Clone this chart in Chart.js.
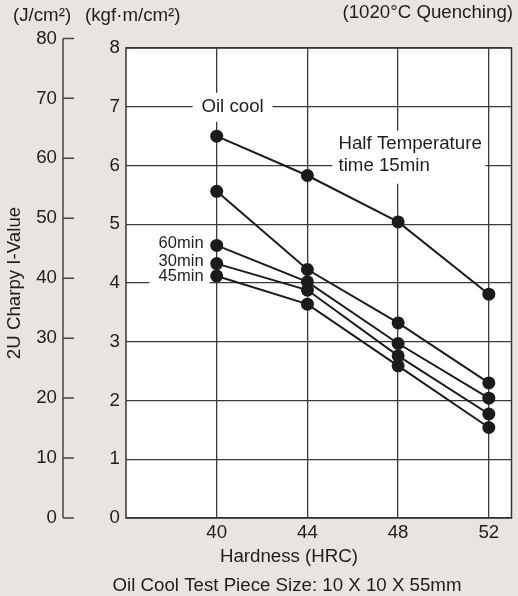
<!DOCTYPE html>
<html>
<head>
<meta charset="utf-8">
<script src="https://cdn.jsdelivr.net/npm/chart.js@4.4.1/dist/chart.umd.min.js"></script>
<style>
  html, body { margin: 0; padding: 0; background: #e8e4e1; }
  #wrap { width: 518px; height: 596px; }
</style>
</head>
<body>
<div id="wrap"><canvas id="charpy-chart"></canvas></div>
<script>
// hardness (HRC) on x, impact value (kgf·m/cm²) on y
const hardness = [40, 44, 48, 52];
const oilCool = [6.5, 5.83, 5.04, 3.81];
const temper15 = [5.56, 4.23, 3.32, 2.30];
const temper60 = [4.64, 4.02, 2.97, 2.04];
const temper30 = [4.33, 3.88, 2.76, 1.77];
const temper45 = [4.12, 3.64, 2.59, 1.54];

const xTicks = [40, 44, 48, 52];
const kgfTicks = [0, 1, 2, 3, 4, 5, 6, 7, 8];
const jTicks = [0, 10, 20, 30, 40, 50, 60, 70, 80];
const J_PER_KGF = 9.8;

const FONT = '"Liberation Sans", Arial, Helvetica, sans-serif';
const INK = '#1e1e1e';
const FS = 18.7;

function pts(ys) {
    return hardness.map((h, i) => ({ x: h, y: ys[i] }));
}

function series(ys) {
    return {
        data: pts(ys),
        borderColor: '#1b1b1b',
        borderWidth: 2,
        pointRadius: 6.5,
        pointBackgroundColor: '#1b1b1b',
        pointBorderWidth: 0,
        pointHoverRadius: 6.5,
        clip: false
    };
}

function txt(ctx, s, x, y, align, size) {
    ctx.font = (size || FS) + 'px ' + FONT;
    ctx.textAlign = align;
    ctx.textBaseline = 'middle';
    ctx.fillStyle = INK;
    ctx.fillText(s, x, y);
}

const paper = {
    id: 'paper',
    beforeDraw(chart) {
        const { ctx, chartArea: a } = chart;
        ctx.save();
        ctx.fillStyle = '#e8e4e1';
        ctx.fillRect(0, 0, chart.width, chart.height);
        ctx.fillStyle = '#fff';
        ctx.fillRect(a.left, a.top, a.right - a.left, a.bottom - a.top);
        ctx.restore();
    },
    beforeDatasetsDraw(chart) {
        const { ctx, chartArea: a } = chart;
        const xs = chart.scales.x, ys = chart.scales.y;
        ctx.save();
        ctx.strokeStyle = '#333';
        ctx.lineWidth = 1.5;
        ctx.strokeRect(a.left, a.top, a.right - a.left, a.bottom - a.top);

        // label boxes cut the grid
        ctx.fillStyle = '#fff';
        let px = xs.getPixelForValue(40.7), py = ys.getPixelForValue(7.0);
        ctx.fillRect(px - 40, py - 14, 80, 29);
        txt(ctx, 'Oil cool', px, py, 'center');

        px = xs.getPixelForValue(45.37);
        py = ys.getPixelForValue(6.37);
        ctx.fillStyle = '#fff';
        ctx.fillRect(px - 6, py - 13, 153, 53);
        txt(ctx, 'Half Temperature', px, py, 'left');
        txt(ctx, 'time 15min', px, ys.getPixelForValue(5.99), 'left');

        px = xs.getPixelForValue(39.42);
        ctx.fillStyle = '#fff';
        ctx.fillRect(px - 54, ys.getPixelForValue(temper60[0]) - 13, 60, 58);
        txt(ctx, '60min', px, ys.getPixelForValue(temper60[0]) - 2, 'right', 16.5);
        txt(ctx, '30min', px, ys.getPixelForValue(temper30[0]) - 2, 'right', 16.5);
        txt(ctx, '45min', px, ys.getPixelForValue(temper45[0]) + 1, 'right', 16.5);
        ctx.restore();
    },
    afterDraw(chart) {
        const { ctx } = chart;
        const ys = chart.scales.y;
        ctx.save();
        // J/cm² axis
        const ax = 63;
        ctx.strokeStyle = '#444';
        ctx.lineWidth = 1.5;
        ctx.beginPath();
        ctx.moveTo(ax, ys.getPixelForValue(0));
        ctx.lineTo(ax, ys.getPixelForValue(80 / J_PER_KGF));
        jTicks.forEach(j => {
            const py = ys.getPixelForValue(j / J_PER_KGF);
            ctx.moveTo(ax, py);
            ctx.lineTo(ax + 11, py);
        });
        ctx.stroke();
        jTicks.forEach(j => {
            txt(ctx, String(j), ax - 6, ys.getPixelForValue(j / J_PER_KGF), 'right');
        });

        txt(ctx, '(J/cm²)', 13, 16, 'left');
        txt(ctx, '(kgf·m/cm²)', 85, 16, 'left');
        txt(ctx, '(1020°C Quenching)', 513, 13, 'right');
        txt(ctx, 'Hardness (HRC)', 289, 557, 'center');
        txt(ctx, 'Oil Cool Test Piece Size: 10 X 10 X 55mm', 287, 586, 'center');
        ctx.restore();
    }
};

new Chart(document.getElementById('charpy-chart'), {
    type: 'line',
    data: {
        datasets: [series(oilCool), series(temper15), series(temper60), series(temper30), series(temper45)]
    },
    options: {
        responsive: true,
        maintainAspectRatio: false,
        animation: false,
        layout: { padding: { top: 48, right: 6, left: 0, bottom: 0 } },
        plugins: { legend: { display: false }, tooltip: { enabled: false } },
        scales: {
            x: {
                type: 'linear',
                min: 36,
                max: 53,
                afterBuildTicks: s => { s.ticks = xTicks.map(v => ({ value: v })); },
                afterFit: s => { s.height = 78; },
                grid: { color: '#3a3a3a', lineWidth: 1.3, drawTicks: false },
                border: { display: false },
                ticks: { font: { size: FS, family: FONT }, color: INK, padding: 4, autoSkip: false, maxRotation: 0 }
            },
            y: {
                min: 0,
                max: 8,
                afterBuildTicks: s => { s.ticks = kgfTicks.map(v => ({ value: v })); },
                afterFit: s => { s.width = 126; },
                grid: { color: '#3a3a3a', lineWidth: 1.3, drawTicks: false },
                border: { display: false },
                ticks: { font: { size: FS, family: FONT }, color: INK, padding: 6 },
                title: {
                    display: true,
                    text: '2U Charpy I-Value',
                    font: { size: FS, family: FONT },
                    color: INK,
                    padding: { top: 4, bottom: 0 }
                }
            }
        }
    },
    plugins: [paper]
});
</script>
</body>
</html>
